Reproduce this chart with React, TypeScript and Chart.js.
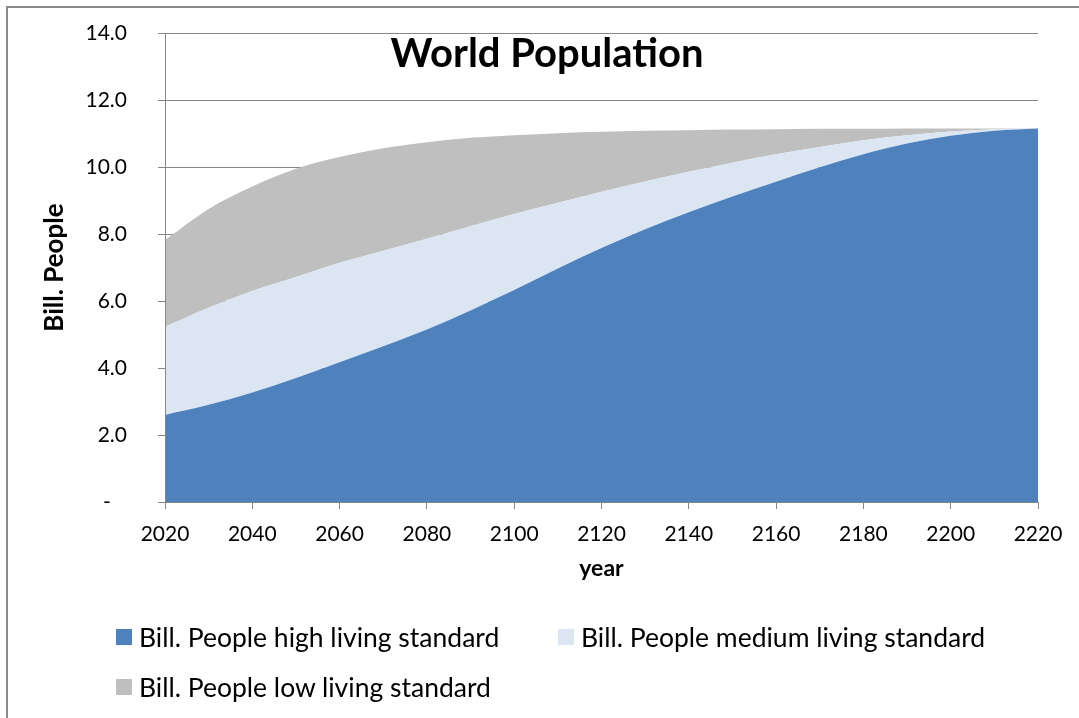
import React, { useEffect, useRef } from 'react';
import { Chart, registerables } from 'chart.js';

Chart.register(...registerables);

// ---- Data ----
const years = [2020, 2030, 2040, 2050, 2060, 2070, 2080, 2090, 2100, 2110, 2120, 2130, 2140, 2150, 2160, 2170, 2180, 2190, 2200, 2210, 2220];
const highStandard = [2.60, 2.90, 3.27, 3.70, 4.17, 4.65, 5.15, 5.72, 6.33, 6.97, 7.58, 8.14, 8.65, 9.12, 9.56, 9.99, 10.38, 10.70, 10.93, 11.08, 11.15];
const mediumStandard = [2.63, 2.90, 3.03, 3.02, 2.97, 2.85, 2.71, 2.51, 2.27, 1.96, 1.68, 1.43, 1.21, 1.01, 0.82, 0.61, 0.42, 0.25, 0.13, 0.05, 0.00];
const lowStandard = [2.59, 2.95, 3.12, 3.23, 3.16, 3.06, 2.88, 2.64, 2.35, 2.08, 1.79, 1.51, 1.24, 0.99, 0.75, 0.54, 0.34, 0.20, 0.09, 0.02, 0.01];

const seriesNames = [
  'Bill. People high living standard',
  'Bill. People medium living standard',
  'Bill. People low living standard',
];
const seriesColors = ['#4F81BD', '#DCE6F2', '#BFBFBF'];

const chartTitle = 'World Population';
const xAxisTitle = 'year';
const yAxisTitle = 'Bill. People';

const FONT = 'Lato, "Open Sans", sans-serif';
const AXIS_COLOR = '#868686';

const overlayPlugin = {
  id: 'overlayPlugin',
  afterDatasetsDraw(chart: any) {
    const { ctx, chartArea } = chart;
    ctx.save();
    ctx.strokeStyle = AXIS_COLOR;
    ctx.lineWidth = 1;
    ctx.beginPath();
    const lx = Math.round(chartArea.left) + 0.5;
    const by = Math.round(chartArea.bottom) + 0.5;
    ctx.moveTo(lx, chartArea.top);
    ctx.lineTo(lx, by);
    ctx.lineTo(chartArea.right, by);
    ctx.stroke();
    ctx.fillStyle = '#000';
    ctx.font = `bold 40px ${FONT}`;
    ctx.textAlign = 'center';
    ctx.textBaseline = 'alphabetic';
    ctx.fillText(chartTitle, chartArea.left + 382, chartArea.top + 34);
    ctx.restore();
  },
};

export default function App() {
  const canvasRef = useRef<HTMLCanvasElement | null>(null);

  useEffect(() => {
    const canvas = canvasRef.current;
    if (!canvas) return;
    const values = [highStandard, mediumStandard, lowStandard];
    const chart = new Chart(canvas, {
      type: 'line',
      data: {
        labels: years,
        datasets: values.map((v, i) => ({
          label: seriesNames[i],
          data: v,
          backgroundColor: seriesColors[i],
          borderColor: seriesColors[i],
          borderWidth: 0,
          pointRadius: 0,
          fill: i === 0 ? 'origin' : '-1',
          cubicInterpolationMode: 'monotone' as const,
        })),
      },
      options: {
        responsive: false,
        animation: false,
        devicePixelRatio: 1,
        layout: { padding: { left: 0, top: 33, right: 41, bottom: 126 } },
        plugins: {
          legend: { display: false },
          title: { display: false },
          tooltip: { enabled: false },
        },
        scales: {
          x: {
            type: 'linear',
            min: 2020,
            max: 2220,
            ticks: {
              stepSize: 20,
              autoSkip: false,
              maxRotation: 0,
              padding: 13,
              color: '#000',
              font: { family: FONT, size: 21 },
              callback: (v: any) => String(v),
            },
            grid: { drawOnChartArea: false, drawTicks: true, tickLength: 7, color: AXIS_COLOR },
            border: { color: AXIS_COLOR },
            title: {
              display: true,
              text: xAxisTitle,
              color: '#000',
              font: { family: FONT, size: 23, weight: 'bold' },
              padding: { top: 0, bottom: 10 },
            },
            afterFit: (s: any) => { s.height = 90; },
          },
          y: {
            stacked: true,
            min: 0,
            max: 14,
            ticks: {
              stepSize: 2,
              padding: 31,
              color: '#000',
              font: { family: FONT, size: 21 },
              callback: (v: any) => (v === 0 ? '-   ' : Number(v).toFixed(1)),
            },
            grid: { color: AXIS_COLOR, drawTicks: true, tickLength: 7 },
            border: { color: AXIS_COLOR },
            title: {
              display: true,
              text: yAxisTitle,
              color: '#000',
              font: { family: FONT, size: 26, weight: 'bold' },
              padding: { top: 39, bottom: 0 },
            },
            afterFit: (s: any) => {
              s.width = 165;
              s.paddingTop = 12;
              s.paddingBottom = 12;
            },
          },
        },
      },
      plugins: [overlayPlugin],
    });
    return () => chart.destroy();
  }, []);

  return (
    <div style={{ position: 'fixed', left: 0, top: 0, width: 1079, height: 718, background: '#fff', overflow: 'hidden' }}>
      <div style={{ position: 'absolute', left: 6, top: 6, width: 1200, height: 900, borderLeft: '2px solid #8a8a8a', borderTop: '2px solid #8a8a8a' }} />
      <canvas ref={canvasRef} width={1079} height={718} style={{ position: 'absolute', left: 0, top: 0, width: 1079, height: 718 }} />
      <div
        style={{
          position: 'absolute',
          left: 116,
          top: 622,
          display: 'grid',
          gridTemplateColumns: '442px auto',
          rowGap: 20,
          fontFamily: FONT,
          fontSize: 26.5,
          color: '#000',
        }}
      >
        {seriesNames.map((name, i) => (
          <div key={name} style={{ display: 'flex', alignItems: 'center', height: 30, whiteSpace: 'nowrap' }}>
            <span style={{ display: 'inline-block', width: 16, height: 16, background: seriesColors[i], marginRight: 7, flexShrink: 0 }} />
            <span>{name}</span>
          </div>
        ))}
      </div>
    </div>
  );
}
